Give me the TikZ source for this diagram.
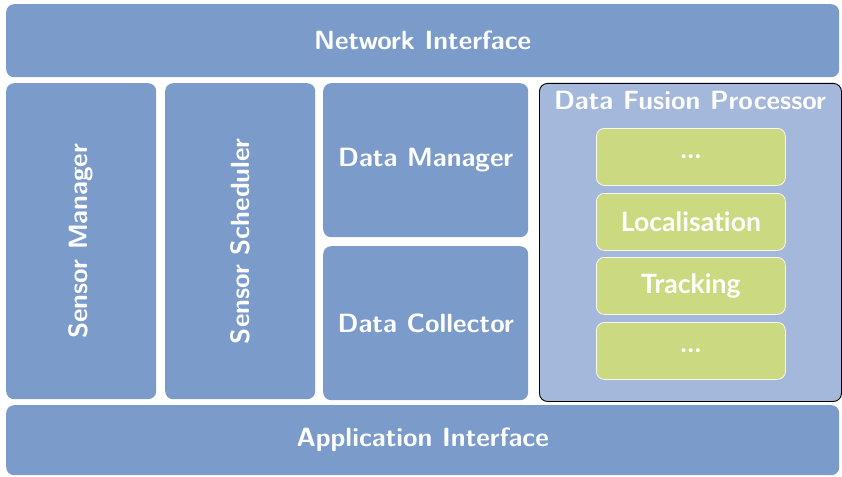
\documentclass[tikz,border=0pt]{standalone}
\usepackage{fontspec}
\newfontfamily\latofont[Ligatures=NoCommon]{Lato}
\definecolor{layerblue}{HTML}{7B9CCB}
\definecolor{fusionblue}{HTML}{A3B8DB}
\definecolor{algogreen}{HTML}{CBD980}
\tikzset{
  headfont/.style={font=\sffamily\bfseries\fontsize{26.4}{30}\selectfont},
  layer/.style={draw=none, fill=layerblue, rounded corners=8pt, anchor=north west,
    inner sep=0pt, text=white, headfont},
  fusion/.style={draw=black, line width=0.9pt, fill=fusionblue, rounded corners=8pt,
    anchor=north west, inner sep=0pt},
  algo/.style={draw=white!85!algogreen, line width=0.8pt, fill=algogreen, rounded corners=8pt,
    anchor=north west, inner sep=0pt, text=white,
    font=\latofont\bfseries\fontsize{26.6}{30}\selectfont},
}
\begin{document}
\begin{tikzpicture}[x=1pt,y=-1pt]
\fill[white] (0,0) rectangle (842,476);
\useasboundingbox (0,0) rectangle (842,476);

\node[layer, minimum width=833pt, minimum height=73pt] (net) at (6,4) {Network Interface};
\node[layer, minimum width=150pt, minimum height=316pt] (smgr) at (6,83) {};
\node[rotate=90, text=white, headfont] (smgrlbl) at (smgr.center) {Sensor Manager};
\node[layer, minimum width=150pt, minimum height=316pt] (ssch) at (165,83) {};
\node[rotate=90, text=white, headfont] (sschlbl) at (ssch.center) {Sensor Scheduler};
\node[layer, minimum width=205pt, minimum height=154pt] (dman) at (323,83) {Data Manager};
\node[layer, minimum width=205pt, minimum height=154pt] (dcol) at (323,246) {Data Collector};
\node[fusion, minimum width=302pt, minimum height=318pt] (dfp) at (539,83) {};
\node[text=white, headfont] (dfplbl) at (690,100) {Data Fusion Processor};
\node[algo, minimum width=189pt, minimum height=57pt] (a1) at (596,128) {\dots};
\node[algo, minimum width=189pt, minimum height=57pt] (a2) at (596,193) {Localisation};
\node[algo, minimum width=189pt, minimum height=57pt] (a3) at (596,257) {Tracking};
\node[algo, minimum width=189pt, minimum height=57pt] (a4) at (596,322) {\dots};
\node[layer, minimum width=833pt, minimum height=70pt] (app) at (6,405) {Application Interface};
\end{tikzpicture}
\end{document}
